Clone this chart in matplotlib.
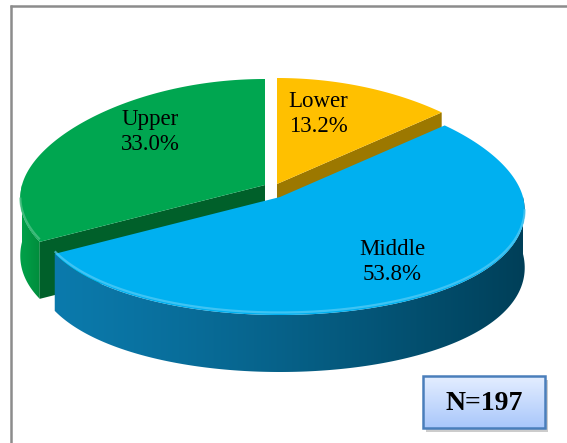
import numpy as np
import matplotlib
matplotlib.use("Agg")
import matplotlib.pyplot as plt
from matplotlib.patches import Polygon, Rectangle
from matplotlib.colors import to_rgb

# ---- data ----
categories = ["Lower", "Middle", "Upper"]
values = [13.2, 53.8, 33.0]
top_colors = ["#FFC000", "#00B0F0", "#00A650"]
wall_left = ["#9C7600", "#0B7AAC", "#00A24A"]
wall_right = ["#7A5C00", "#003F58", "#008A3A"]
face_colors = ["#9C7800", "#005F84", "#00602A"]
n_total = 197

# ---- geometry (pixel space) ----
W, H = 567, 443
a, bt, bb, p, depth = 243, 106, 118, 0.12, 57
centers = {"Lower": (277, 184), "Middle": (280, 197), "Upper": (265, 185)}
label_pos = {"Lower": (318, 114), "Middle": (392, 262), "Upper": (150, 132)}

fig = plt.figure(figsize=(W / 100, H / 100), dpi=100)
ax = fig.add_axes([0, 0, 1, 1])
ax.set_xlim(0, W)
ax.set_ylim(H, 0)
ax.axis("off")


def rim(cx, cy, th, dz=0.0):
    t = np.radians(th)
    s = 1 - p * np.sin(t)
    x = cx + a * np.cos(t) * s
    b = np.where(np.sin(t) > 0, bt, bb)
    y = cy - b * np.sin(t) + dz
    return x, y


def mix(c1, c2, f):
    c1, c2 = np.array(to_rgb(c1)), np.array(to_rgb(c2))
    return tuple(c1 * (1 - f) + c2 * f)


cum = np.concatenate([[0], np.cumsum(values)]) / sum(values)
angles = {c: (90 - 360 * cum[i], 90 - 360 * cum[i + 1]) for i, c in enumerate(categories)}


def draw_wall(cat, th0, th1, z):
    cx, cy = centers[cat]
    i = categories.index(cat)
    ths = np.linspace(th0, th1, 200)
    xs, ys = rim(cx, cy, ths)
    pts = list(zip(xs, ys)) + list(zip(xs[::-1], ys[::-1] + depth))
    poly = Polygon(pts, closed=True, facecolor="none", edgecolor="none", zorder=z)
    ax.add_patch(poly)
    x0, x1 = xs.min() - 2, xs.max() + 2
    y0, y1 = ys.min() - 2, ys.max() + depth + 2
    f = np.linspace(0, 1, 256) ** 1.2
    cl, cr = np.array(to_rgb(wall_left[i])), np.array(to_rgb(wall_right[i]))
    img = (cl[None, :] * (1 - f[:, None]) + cr[None, :] * f[:, None])[None, :, :]
    im = ax.imshow(img, extent=(x0, x1, y1, y0), aspect="auto", zorder=z,
                   interpolation="bilinear")
    im.set_clip_path(poly)


def draw_face(cat, th, z):
    cx, cy = centers[cat]
    i = categories.index(cat)
    x, y = rim(cx, cy, th)
    ax.add_patch(Polygon([(cx, cy), (x, y), (x, y + depth), (cx, cy + depth)],
                         closed=True, facecolor=face_colors[i], edgecolor="none", zorder=z))


def draw_top(cat, z):
    cx, cy = centers[cat]
    i = categories.index(cat)
    th0, th1 = angles[cat]
    ths = np.linspace(th0, th1, 200)
    xs, ys = rim(cx, cy, ths)
    pts = [(cx, cy)] + list(zip(xs, ys))
    ax.add_patch(Polygon(pts, closed=True, facecolor=top_colors[i], edgecolor="none", zorder=z))
    front = ths[np.sin(np.radians(ths)) < -0.12]
    if len(front) > 2:
        fx, fy = rim(cx, cy, front, dz=-2.5)
        ax.plot(fx, fy, color=mix(top_colors[i], "white", 0.35), lw=1.6, alpha=0.7,
                zorder=z + 0.1, solid_capstyle="butt")


# Upper (green)
thU0, thU1 = angles["Upper"]
draw_wall("Upper", -180, thU0, 1)
draw_face("Upper", thU0, 1.5)
draw_top("Upper", 2)
# Lower (yellow)
thL0, thL1 = angles["Lower"]
draw_face("Lower", thL1, 3)
draw_top("Lower", 4)
# Middle (blue)
thM0, thM1 = angles["Middle"]
draw_wall("Middle", thM1, 0, 5)
draw_top("Middle", 6)

# labels
for i, c in enumerate(categories):
    x, y = label_pos[c]
    ax.text(x, y, f"{c}\n{values[i]:.1f}%", ha="center", va="center",
            family="Liberation Serif", fontsize=16.5, color="black",
            linespacing=1.25, zorder=10)

# N box with shadow and gradient
bx, by, bw, bh = 423, 376, 122, 52
ax.add_patch(Rectangle((bx + 3, by + 4), bw, bh, facecolor="#9a9a9a", alpha=0.5,
                       edgecolor="none", zorder=10))
grad = np.linspace(0, 1, 64).reshape(-1, 1)
c_top, c_bot = np.array(to_rgb("#E4EEFF")), np.array(to_rgb("#A9C7FB"))
img = c_top[None, None, :] * (1 - grad[:, :, None]) + c_bot[None, None, :] * grad[:, :, None]
ax.imshow(img, extent=(bx, bx + bw, by + bh, by), aspect="auto", zorder=11, interpolation="bilinear")
ax.add_patch(Rectangle((bx, by), bw, bh, facecolor="none", edgecolor="#4A7EBB", lw=1.8, zorder=12))
ax.text(bx + bw / 2, by + bh / 2 + 1, f"N={n_total}", ha="center", va="center",
        family="Liberation Serif", fontsize=20, fontweight="bold", zorder=13)
ax.set_xlim(0, W)
ax.set_ylim(H, 0)

# frame (top and left edges)
ax.plot([10, W], [5.5, 5.5], color="#8c8c8c", lw=1.8, zorder=20, solid_capstyle="butt")
ax.plot([10.5, 10.5], [5, H], color="#8c8c8c", lw=1.8, zorder=20, solid_capstyle="butt")

fig.savefig("out.png", dpi=100)
